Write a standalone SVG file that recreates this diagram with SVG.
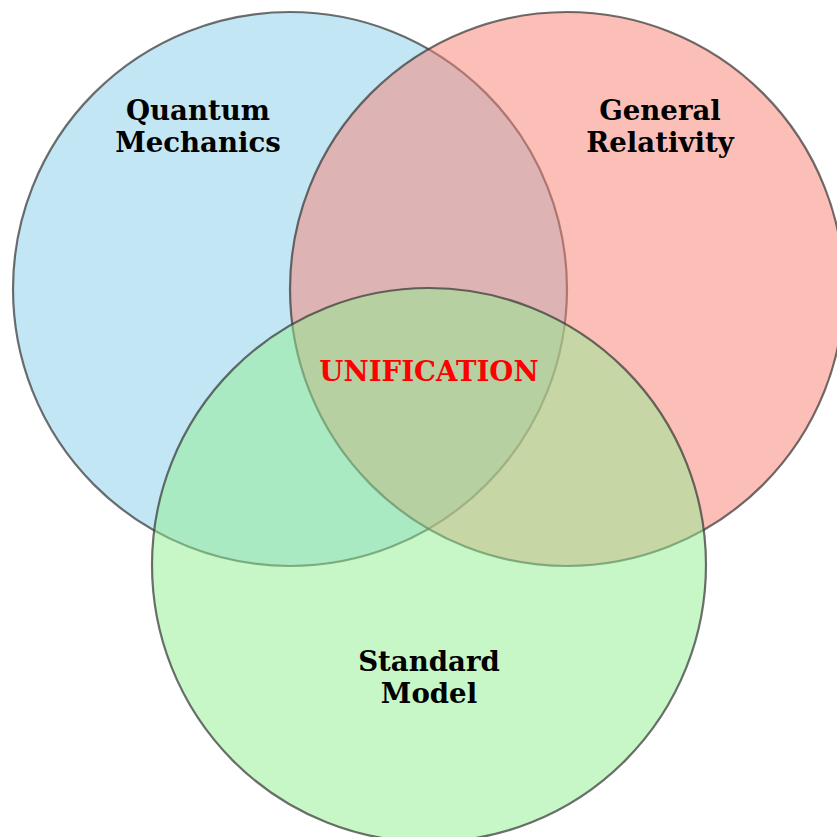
<svg xmlns="http://www.w3.org/2000/svg" width="837" height="837" viewBox="0 0 837 837">
<style>
.c{stroke:#333;stroke-opacity:0.7;stroke-width:2.2}
.t{font-family:"DejaVu Serif",serif;font-weight:bold;font-size:27.6px;text-anchor:middle;fill:#000}
.u{fill:#ff0000}
</style>
<rect width="837" height="837" fill="#fff"/>
<g id="qm"><circle class="c" cx="290" cy="289" r="277" fill="rgb(135,206,235)" fill-opacity="0.5"/></g>
<g id="gr"><circle class="c" cx="567" cy="289" r="277" fill="rgb(250,128,114)" fill-opacity="0.5"/></g>
<g id="sm"><circle class="c" cx="429" cy="565" r="277" fill="rgb(144,238,144)" fill-opacity="0.5"/></g>
<g id="labels">
<text class="t" x="198" y="120">Quantum</text>
<text class="t" x="198" y="152">Mechanics</text>
<text class="t" x="660" y="120">General</text>
<text class="t" x="660" y="152">Relativity</text>
<text class="t u" x="429" y="381">UNIFICATION</text>
<text class="t" x="429" y="671">Standard</text>
<text class="t" x="429" y="703">Model</text>
</g>
<g id="connectors"/>
</svg>
